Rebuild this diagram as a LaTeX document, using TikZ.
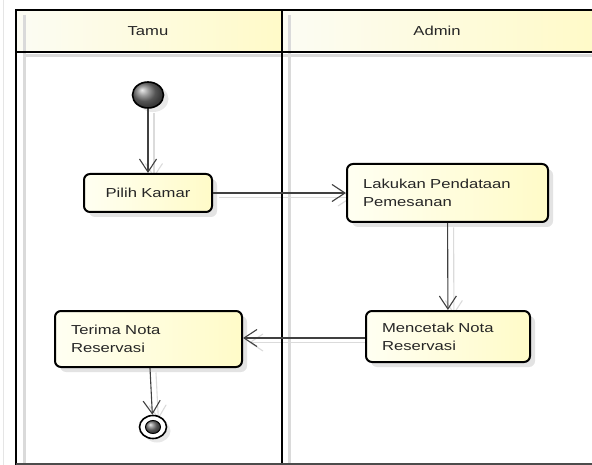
\documentclass[tikz,border=0pt]{standalone}
\usepackage{fontspec}
\usetikzlibrary{arrows.meta,shapes.geometric,shadows,backgrounds}
\newfontfamily\umlfont{Liberation Sans}[FakeStretch=1.28]
\definecolor{hdrL}{RGB}{252,252,244}
\definecolor{hdrR}{RGB}{255,250,200}
\definecolor{actL}{RGB}{255,255,242}
\definecolor{actR}{RGB}{255,251,200}
\definecolor{laneshade}{RGB}{218,218,218}
\definecolor{dotgray}{RGB}{120,120,120}
\tikzset{
  umltext/.style={font=\umlfont\fontsize{13}{18}\selectfont, text=black!85},
  lanelabel/.style={umltext, inner sep=0pt},
  action/.style={umltext, rectangle, rounded corners=6pt, draw=black, line width=2pt,
    left color=actL, right color=actR, align=left, inner xsep=16pt, inner ysep=0pt,
    drop shadow={shadow xshift=5pt, shadow yshift=-5pt, fill=black!22}},
  startdot/.style={ellipse, draw=black, line width=1.6pt, minimum width=31pt,
    minimum height=26pt, inner sep=0pt, ball color=dotgray,
    drop shadow={shadow xshift=5pt, shadow yshift=-4pt, fill=black!18}},
  endring/.style={ellipse, draw=black, line width=1.6pt, minimum width=27pt,
    minimum height=23pt, inner sep=0pt, fill=white,
    drop shadow={shadow xshift=4pt, shadow yshift=-4pt, fill=black!18}},
  enddot/.style={ellipse, draw=black, line width=1pt, minimum width=15pt,
    minimum height=13pt, inner sep=0pt, ball color=dotgray},
  flow/.style={draw=black!75, line width=1.1pt,
    -{Straight Barb[length=13pt,width=17pt]}},
  flowshadow/.style={flow, draw=black!14,
    transform canvas={shift={(6pt,-4.5pt)}}},
  laneshadow/.style={draw=laneshade, line width=3pt}
}
\begin{document}
\begin{tikzpicture}[x=1pt,y=-1pt]
\useasboundingbox (0,0) rectangle (592,465);

% faint margin rule
\draw[black!10, line width=1pt] (3,0) -- (3,465);

% swimlane headers
\shade[left color=hdrL, right color=hdrR] (16,10) rectangle (282,52);
\shade[left color=hdrL, right color=hdrR] (282,10) rectangle (594,52);

% swimlane shadows
\draw[laneshadow] (24,15) -- (24,465);
\draw[laneshadow] (289,15) -- (289,465);
\draw[laneshadow] (24,56) -- (594,56);

% swimlane frame
\draw[line width=2pt] (16,465) -- (16,10) -- (594,10);
\draw[line width=2pt] (16,52) -- (594,52);
\draw[line width=2pt] (282,10) -- (282,465);
\draw[black!70, line width=1.5pt] (16,464) -- (594,464);

\node[lanelabel] (tamu) at (148,31) {Tamu};
\node[lanelabel] (admin) at (437,31) {Admin};

% activity nodes
\node[startdot] (start) at (148,95) {};
\node[action, text width=96pt, minimum height=38pt, align=center] (pilih) at (148,193) {Pilih Kamar};
\node[action, text width=169pt, minimum height=58pt] (lakukan) at (447.5,193) {Lakukan Pendataan\\Pemesanan};
\node[action, text width=132pt, minimum height=51pt] (mencetak) at (448,336.5) {Mencetak Nota\\Reservasi};
\node[action, text width=155pt, minimum height=56pt] (terima) at (148.5,339) {Terima Nota\\Reservasi};
\node[endring] (end) at (153,427) {};
\node[enddot] (endcore) at (end.center) {};

% exit point of the return flow on the left side of the printing step
\coordinate (mw) at ([yshift=-1.5pt]mencetak.west);

% connector shadows
\begin{scope}[on background layer]
\draw[flowshadow] (start) -- (pilih);
\draw[flowshadow] (pilih) -- (lakukan);
\draw[flowshadow] (lakukan) -- (mencetak);
\draw[flowshadow] (mw) -- (terima.east |- mw);
\draw[flowshadow] (terima) -- (end);
\end{scope}

% connectors
\draw[flow] (start) -- (pilih);
\draw[flow] (pilih) -- (lakukan);
\draw[flow] (lakukan) -- (mencetak);
\draw[flow] (mw) -- (terima.east |- mw);
\draw[flow] (terima) -- (end);
\end{tikzpicture}
\end{document}
